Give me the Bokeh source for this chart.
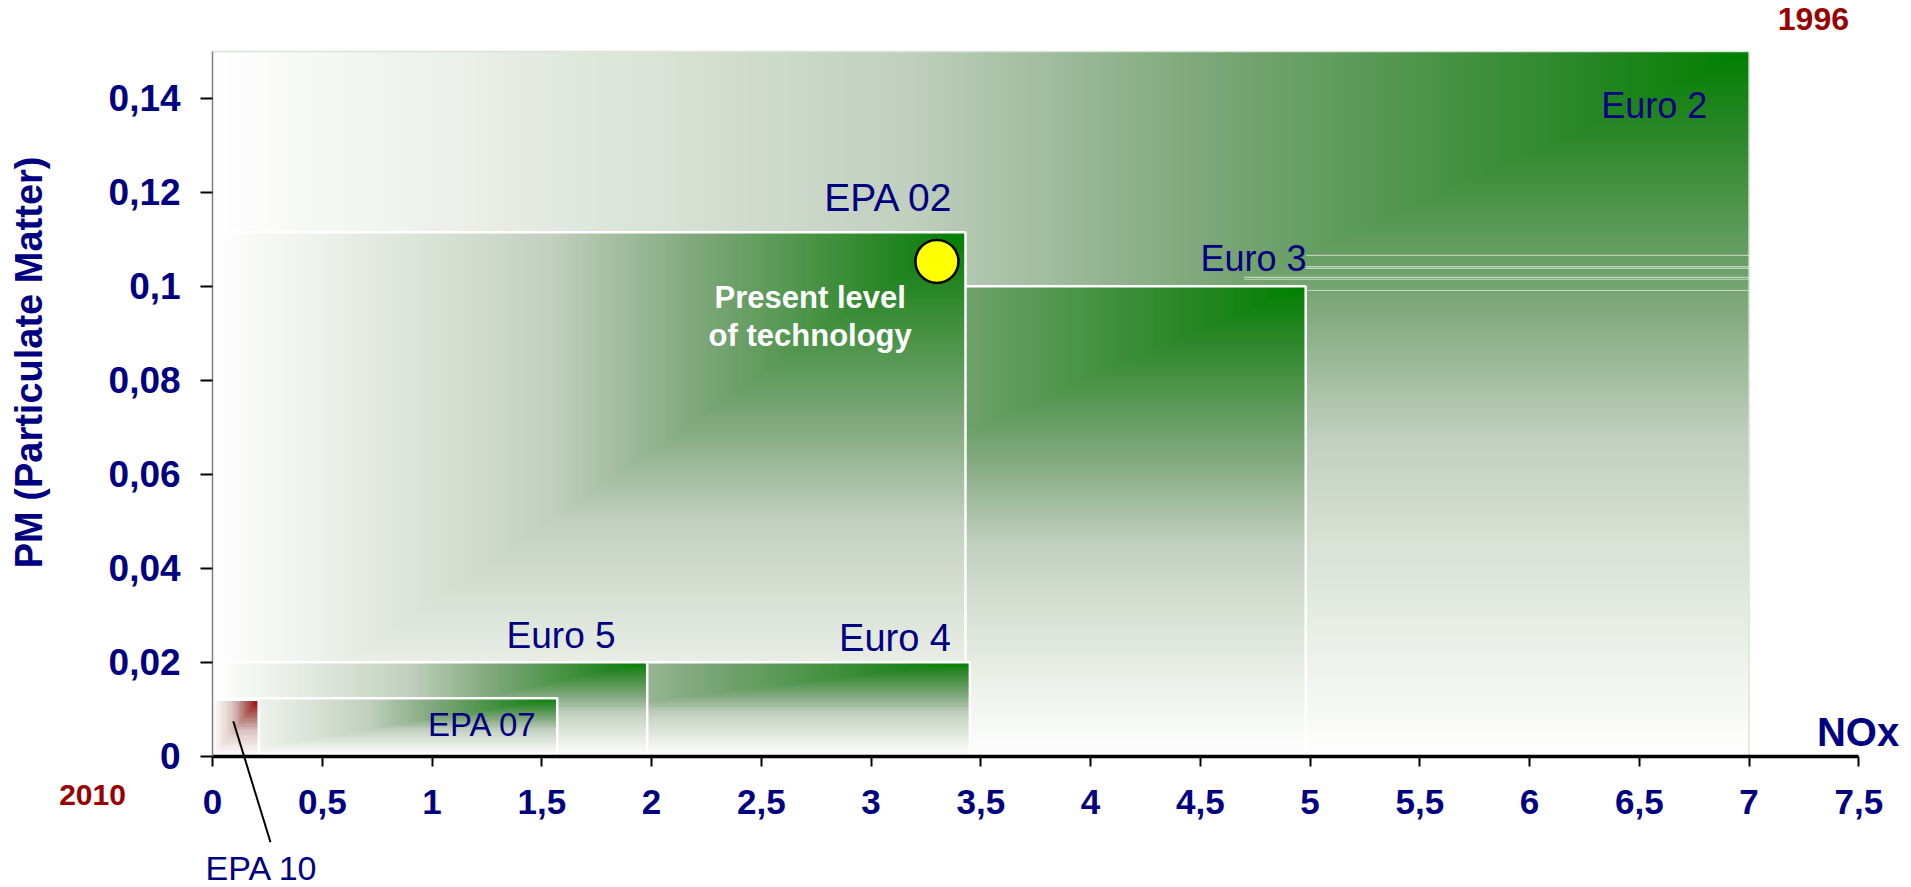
import numpy as np
from bokeh.plotting import figure
from bokeh.models import Range1d, FixedTicker, CustomJSTickFormatter
from bokeh.core.properties import value
from bokeh.embed import file_html
from bokeh.resources import INLINE

# ---------------------------------------------------------------------------
# Emission limits for heavy-duty engines: NOx (x) versus PM (y).
# Boxes are listed back to front.
# ---------------------------------------------------------------------------
box_names = ["Euro 2", "Euro 3", "EPA 02", "Euro 4", "Euro 5", "EPA 07", "EPA 10"]
box_nox = [7.0, 4.98, 3.43, 3.45, 1.98, 1.57, 0.21]
box_pm = [0.15, 0.10, 0.1115, 0.02, 0.02, 0.0123, 0.012]
box_tone = ["green", "green", "green", "green", "green", "green", "red"]

# present level of technology
tech_nox = [3.30]
tech_pm = [0.1053]

# faint horizontal streaks across the Euro 2 field
streak_pm = [0.1066, 0.1042, 0.1038, 0.1019, 0.1015, 0.0991]
streak_from = [4.98, 4.98, 4.98, 4.70, 4.70, 4.98]
streak_to = [7.0, 7.0, 7.0, 7.0, 7.0, 7.0]

x_ticks = [0, 0.5, 1, 1.5, 2, 2.5, 3, 3.5, 4, 4.5, 5, 5.5, 6, 6.5, 7, 7.5]
y_ticks = [0, 0.02, 0.04, 0.06, 0.08, 0.10, 0.12, 0.14]

# ---------------------------------------------------------------------------
W, H = 1911, 887
X0, X1 = -0.9663, 7.7399
Y0, Y1 = -0.02797, 0.16083
PX_X = W / (X1 - X0)
PX_Y = H / (Y1 - Y0)

NAVY = "#000080"
DARK_RED = "#990000"
FONT = value("Liberation Sans")

# corner gradient: t = 0 at the top-right corner, 1 along left/bottom edges
stops_t = [0.0, 0.10, 0.36, 0.55, 0.70, 0.85, 1.0]
stops_r = [0, 38, 128, 194, 216, 237, 255]
stops_g = [128, 134, 168, 208, 226, 241, 255]
stops_b = [0, 36, 124, 192, 213, 235, 255]


def corner_gradient(w_px, h_px, tone):
    nx = max(2, int(round(w_px / 2.5)))
    ny = max(2, int(round(h_px / 2.5)))
    u = (np.arange(nx) + 0.5) / nx
    v = (np.arange(ny) + 0.5) / ny
    t = np.maximum(1 - u[None, :], 1 - v[:, None])
    r = np.interp(t, stops_t, stops_r)
    g = np.interp(t, stops_t, stops_g)
    b = np.interp(t, stops_t, stops_b)
    if tone == "red":
        r, g = 153 + (g - 128) * (102 / 127), r
    img = np.empty((ny, nx), dtype=np.uint32)
    view = img.view(dtype=np.uint8).reshape((ny, nx, 4))
    view[..., 0] = np.clip(r, 0, 255).astype(np.uint8)
    view[..., 1] = np.clip(g, 0, 255).astype(np.uint8)
    view[..., 2] = np.clip(b, 0, 255).astype(np.uint8)
    view[..., 3] = 255
    return img


p = figure(
    width=W, height=H,
    x_range=Range1d(X0, X1), y_range=Range1d(Y0, Y1),
    output_backend="svg", toolbar_location=None, title=None,
    min_border=0, outline_line_color=None,
    background_fill_color="white", border_fill_color="white",
)
p.grid.visible = False

for i, name in enumerate(box_names):
    nox, pm = box_nox[i], box_pm[i]
    img = corner_gradient(nox * PX_X, pm * PX_Y, box_tone[i])
    p.image_rgba(image=[img], x=0, y=0, dw=nox, dh=pm)
    edge = "#d8e6d5" if i == 0 else "white"
    p.line(x=[0, nox, nox], y=[pm, pm, 0], line_color=edge,
           line_width=1.5 if i == 0 else 2.5)
    if i == 0:
        p.segment(x0=streak_from, y0=streak_pm, x1=streak_to, y1=streak_pm,
                  line_color="white", line_alpha=0.55, line_width=1.2)

# ---------------------------------------------------------------------------
# axes crossing at the origin
xa = p.xaxis[0]
xa.fixed_location = 0
xa.bounds = (0, 7.5)
xa.ticker = FixedTicker(ticks=x_ticks)
ya = p.yaxis[0]
ya.fixed_location = 0
ya.bounds = (0, 0.15)
ya.ticker = FixedTicker(ticks=y_ticks)

fmt_code = """
let s = tick.toFixed(2).replace(/0+$/, '').replace(/\\.$/, '');
return s.replace('.', ',');
"""
for ax in (xa, ya):
    ax.formatter = CustomJSTickFormatter(code=fmt_code)
    ax.minor_tick_line_color = None
    ax.major_tick_in = 0
    ax.major_tick_line_color = "black"
    ax.major_tick_line_width = 2
    ax.major_label_text_font = "Liberation Sans"
    ax.major_label_text_font_style = "bold"
    ax.major_label_text_color = NAVY

xa.axis_line_color = "black"
xa.axis_line_width = 3.5
xa.major_tick_out = 10
xa.major_label_text_font_size = "35px"
xa.major_label_standoff = 24

ya.axis_line_color = "#808080"
ya.axis_line_width = 1.5
ya.major_tick_out = 12
ya.major_label_text_font_size = "37px"
ya.major_label_standoff = 20

# ---------------------------------------------------------------------------
# box names
name_x = [6.81, 4.984, 3.376, 3.364, 1.836, 1.48]
name_y = [0.1384, 0.1060, 0.1190, 0.0251, 0.0256, 0.0068]
name_size = ["36px", "36px", "39px", "38px", "37px", "33px"]
for i in range(6):
    p.text(x=[name_x[i]], y=[name_y[i]], text=[box_names[i]],
           text_font=FONT, text_font_size=value(name_size[i]),
           text_color=NAVY, text_align="right", text_baseline="alphabetic")

# EPA 10 callout below the axis
p.line(x=[0.0943, 0.2638], y=[0.00742, -0.01833], line_color="black", line_width=2)
p.text(x=[-0.032], y=[-0.0239], text=[box_names[6]], text_font=FONT,
       text_font_size=value("34px"), text_color=NAVY,
       text_align="left", text_baseline="alphabetic")

# present technology marker
p.scatter(x=tech_nox, y=tech_pm, marker="circle", size=43,
          fill_color="#ffff00", line_color="black", line_width=2.5)
p.text(x=[2.7225, 2.7225], y=[0.0977, 0.0896],
       text=["Present level", "of technology"], text_font=FONT,
       text_font_size=value("31px"), text_font_style="bold",
       text_color="white", text_align="center", text_baseline="alphabetic")

# years at both ends of the scale
p.text(x=[7.293], y=[0.1568], text=["1996"], text_font=FONT,
       text_font_size=value("32px"), text_font_style="bold",
       text_color=DARK_RED, text_align="center", text_baseline="alphabetic")
p.text(x=[-0.547], y=[-0.0083], text=["2010"], text_font=FONT,
       text_font_size=value("30px"), text_font_style="bold",
       text_color=DARK_RED, text_align="center", text_baseline="alphabetic")

# axis titles
p.text(x=[7.309], y=[0.0052], text=["NOx"], text_font=FONT,
       text_font_size=value("40px"), text_font_style="bold",
       text_color=NAVY, text_align="left", text_baseline="alphabetic")
p.text(x=[-0.8387], y=[0.0838], text=["PM (Particulate Matter)"], text_font=FONT,
       text_font_size=value("38px"), text_font_style="bold",
       text_color=NAVY, text_align="center", text_baseline="middle",
       angle=np.pi / 2)

open("out.html", "w").write(file_html(p, INLINE, title="NOx and PM limits"))
